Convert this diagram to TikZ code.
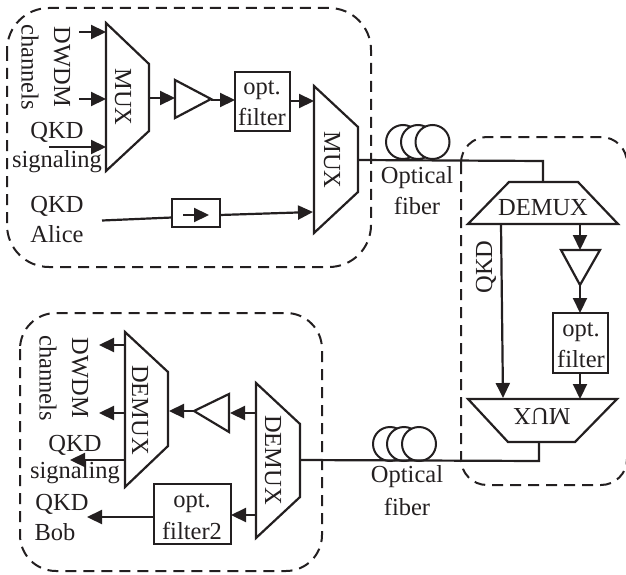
\documentclass[tikz,border=0pt]{standalone}
\usepackage{fontspec}
\setmainfont{Liberation Serif}
\usetikzlibrary{arrows.meta}
\definecolor{ink}{HTML}{231F20}
\tikzset{
  x=1pt,y=-1pt,
  every node/.style={inner sep=0pt,outer sep=0pt,text=ink},
  lbl/.style={font=\fontsize{24.5}{28}\selectfont,anchor=center},
  wire/.style={draw=ink,line width=2.2pt},
  flow/.style={wire,-{Triangle[length=15pt,width=14pt]}},
  device/.style={draw=ink,line width=2.2pt,line join=miter},
  fbox/.style={draw=ink,line width=2.2pt,minimum width=#1,anchor=center},
  zone/.style={draw=ink,line width=2pt,dash pattern=on 11pt off 7pt},
  coil/.style={draw=ink,fill=white,line width=2pt,circle,minimum size=34pt},
}
\begin{document}
\begin{tikzpicture}
\useasboundingbox (0,0) rectangle (626,575);
% zones
\draw[zone,rounded corners=42pt] (7,8) rectangle (371,267);
\draw[zone,rounded corners=36pt] (20,313) rectangle (322,571);
\draw[zone,rounded corners=26pt] (461,137) rectangle (627,485);
% top-left devices
\draw[device] (106,23) -- (149,64) -- (149,131) -- (106,171) -- cycle;
\draw[device] (314,86) -- (358,127) -- (358,192) -- (314,233) -- cycle;
\draw[device] (175,80) -- (211,99) -- (175,118) -- cycle;
\node[fbox=55pt,minimum height=59pt] (f1) at (262.5,101.5) {};
\node[fbox=48pt,minimum height=28pt] (iso) at (196,213) {};
\node[lbl,rotate=-90] (m1) at (123,97) {MUX};
\node[lbl,rotate=-90] (m2) at (332,160) {MUX};
\node[lbl] (t1) at (262,90) {opt.};
\node[lbl] (t2) at (262,117) {filter};
\node[lbl,rotate=-90] (t3) at (62,67) {DWDM};
\node[lbl,rotate=-90] (t4) at (30,67) {channels};
\node[lbl] (t5) at (57,132) {QKD};
\node[lbl] (t6) at (57,162) {signaling};
\node[lbl] (t7) at (57,206) {QKD};
\node[lbl] (t8) at (57,234) {Alice};
\coordinate (a1) at (79,32);   \coordinate (b1) at (106,32);
\coordinate (a2) at (79,99);   \coordinate (b2) at (106,99);
\coordinate (a3) at (49,147);  \coordinate (b3) at (106,147);
\coordinate (c1) at (149,98);  \coordinate (c2) at (175,98);
\coordinate (c3) at (211,100); \coordinate (c4) at (235,100);
\coordinate (c5) at (290,101); \coordinate (c6) at (314,101);
\coordinate (d1) at (102,220.5); \coordinate (d2) at (172,217.5);
\coordinate (d3) at (220,215);   \coordinate (d4) at (313,212);
\coordinate (i1) at (183,215);   \coordinate (i2) at (209,215);
\draw[flow] (a1) -- (b1);
\draw[flow] (a2) -- (b2);
\draw[flow] (a3) -- (b3);
\draw[flow] (c1) -- (c2);
\draw[flow] (c3) -- (c4);
\draw[flow] (c5) -- (c6);
\draw[wire] (d1) -- (d2);
\draw[flow] (d3) -- (d4);
\draw[flow] (i1) -- (i2);
% upper fiber
\node[coil] (u1) at (403,142) {};
\node[coil] (u2) at (418,142) {};
\node[coil] (u3) at (432.5,142) {};
\node[lbl] (t9) at (417,178) {Optical};
\node[lbl] (t10) at (417,206) {fiber};
\coordinate (e1) at (358,160); \coordinate (e2) at (543,161); \coordinate (e3) at (543,182);
\draw[wire] (e1) -- (e2) -- (e3);
% right devices
\draw[device] (468,224) -- (509,182) -- (578,182) -- (618,224) -- cycle;
\draw[device] (468,399) -- (617,399) -- (575,442) -- (508,442) -- cycle;
\draw[device] (561,250) -- (600,250) -- (580,285) -- cycle;
\node[fbox=55pt,minimum height=60pt] (f2) at (580.5,343) {};
\node[lbl] (t11) at (543,208) {DEMUX};
\node[lbl,rotate=180] (t12) at (542,416) {MUX};
\node[lbl] (t13) at (581,332) {opt.};
\node[lbl] (t14) at (581,359) {filter};
\node[lbl,rotate=90] (t15) at (486,267) {QKD};
\coordinate (g1) at (501,224); \coordinate (g2) at (503,398);
\coordinate (g3) at (580,224); \coordinate (g4) at (580,250);
\coordinate (g5) at (580,285); \coordinate (g6) at (580,313);
\coordinate (g7) at (580,373); \coordinate (g8) at (580,399);
\draw[flow] (g1) -- (g2);
\draw[flow] (g3) -- (g4);
\draw[flow] (g5) -- (g6);
\draw[flow] (g7) -- (g8);
% lower fiber
\node[coil] (l1) at (390,444) {};
\node[coil] (l2) at (404,444) {};
\node[coil] (l3) at (419,444) {};
\node[lbl] (t16) at (407,477) {Optical};
\node[lbl] (t17) at (407,507) {fiber};
\coordinate (h1) at (539,442); \coordinate (h2) at (539,461); \coordinate (h3) at (300,460);
\draw[wire] (h1) -- (h2) -- (h3);
% bottom-left devices
\draw[device] (125,332) -- (168,372) -- (168,446) -- (125,487) -- cycle;
\draw[device] (256,383) -- (300,424) -- (300,497) -- (256,538) -- cycle;
\draw[device] (229,394) -- (229,432) -- (194,411) -- cycle;
\node[fbox=77pt,minimum height=60pt] (f3) at (192.5,514) {};
\node[lbl,rotate=-90] (t18) at (140,410) {DEMUX};
\node[lbl,rotate=-90] (t19) at (273,460) {DEMUX};
\node[lbl,rotate=-90] (t20) at (80,378) {DWDM};
\node[lbl,rotate=-90] (t21) at (48,378) {channels};
\node[lbl] (t22) at (75,445) {QKD};
\node[lbl] (t23) at (75,473) {signaling};
\node[lbl] (t24) at (62,504) {QKD};
\node[lbl] (t25) at (55,532) {Bob};
\node[lbl] (t26) at (192,503) {opt.};
\node[lbl] (t27) at (192,531) {filter2};
\coordinate (j1) at (125,345); \coordinate (j2) at (99,345);
\coordinate (j3) at (125,413); \coordinate (j4) at (99,413);
\coordinate (j5) at (125,460); \coordinate (j6) at (70,460);
\coordinate (k1) at (194,411); \coordinate (k2) at (169,411);
\coordinate (k3) at (256,413); \coordinate (k4) at (230,413);
\coordinate (k5) at (256,515); \coordinate (k6) at (231,515);
\coordinate (k7) at (154,517); \coordinate (k8) at (87,517);
\draw[flow] (j1) -- (j2);
\draw[flow] (j3) -- (j4);
\draw[flow] (j5) -- (j6);
\draw[flow] (k1) -- (k2);
\draw[flow] (k3) -- (k4);
\draw[flow] (k5) -- (k6);
\draw[flow] (k7) -- (k8);
\end{tikzpicture}
\end{document}
